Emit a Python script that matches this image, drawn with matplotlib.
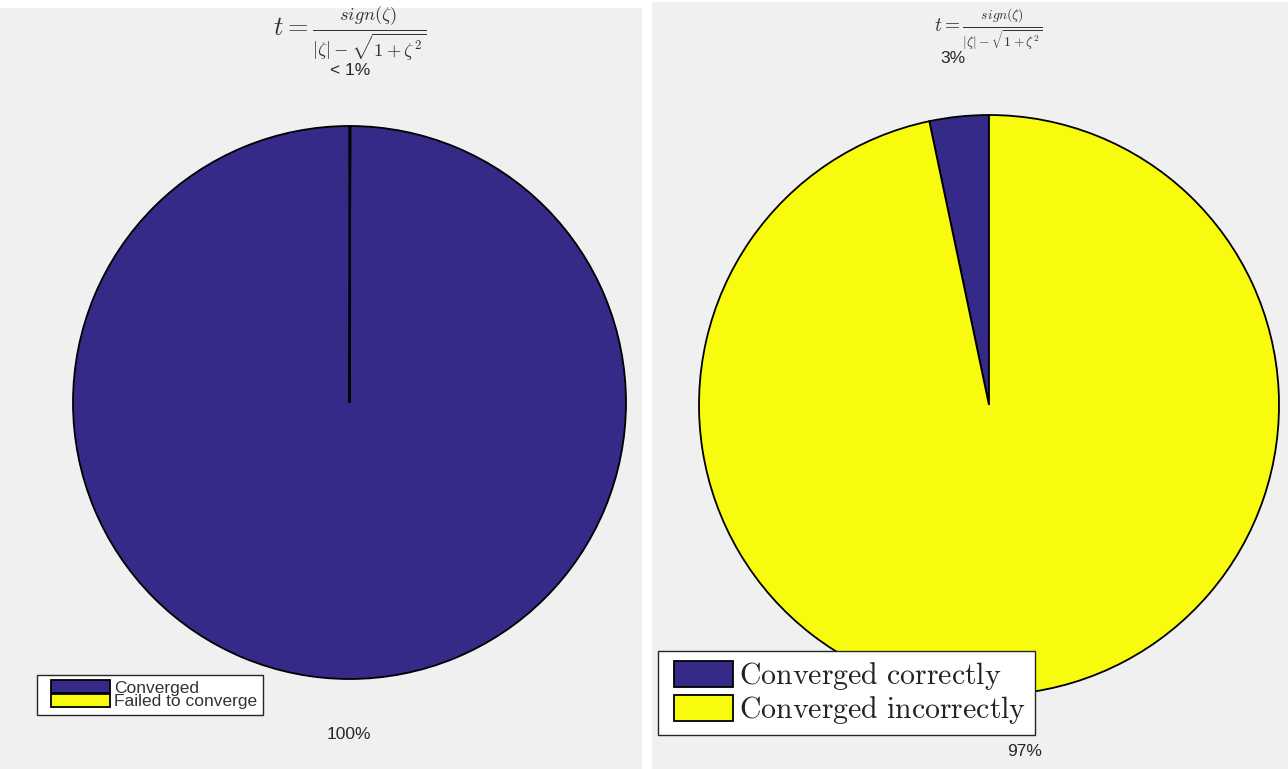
import matplotlib
matplotlib.use("Agg")
import matplotlib.pyplot as plt
from matplotlib.patches import Rectangle
from matplotlib.legend_handler import HandlerPatch

plt.rcParams["font.family"] = ["Liberation Sans", "DejaVu Sans"]
plt.rcParams["mathtext.fontset"] = "cm"

W, H = 1288, 769

# data
left_labels = ["Converged", "Failed to converge"]
left_values = [99.95, 0.05]
right_labels = [r"$\mathrm{Converged\ correctly}$", r"$\mathrm{Converged\ incorrectly}$"]
right_values = [3.3, 96.7]

colors = ["#352a87", "#f9fb0e"]
panel_gray = "#f0f0f0"
title = r"$t = \frac{sign(\zeta)}{|\zeta| - \sqrt{1+\zeta^2}}$"


def pct_label(v, total):
    p = 100.0 * v / total
    if p < 1:
        return "< 1%"
    return "%d%%" % round(p)


def make_panel(fig, px0, py0, px1, py1, cx, cy, r):
    # pixel coords measured from top-left
    fig.patches.append(Rectangle((px0 / W, 1 - py1 / H), (px1 - px0) / W, (py1 - py0) / H,
                                 transform=fig.transFigure, facecolor=panel_gray,
                                 edgecolor="none", zorder=-5))
    ax = fig.add_axes([px0 / W, 1 - py1 / H, (px1 - px0) / W, (py1 - py0) / H])
    ax.set_facecolor("none")
    return ax, ((px0 - cx) / r, (px1 - cx) / r), ((cy - py1) / r, (cy - py0) / r)


def swatch(offset):
    # legend patch shifted right by `offset` points
    def f(legend, orig_handle, xdescent, ydescent, width, height, fontsize):
        return Rectangle((-xdescent + offset, -ydescent), width - offset, height)
    return HandlerPatch(patch_func=f)


fig = plt.figure(figsize=(W / 100, H / 100), dpi=100)
fig.patch.set_facecolor("white")

# left panel
ax1, xl, yl = make_panel(fig, 0, 8, 642, 769, 349.5, 402.5, 276.5)
tot = sum(left_values)
wedges, texts = ax1.pie(left_values, colors=colors, startangle=90, counterclock=True,
                        labels=[pct_label(v, tot) for v in left_values], labeldistance=1.2,
                        wedgeprops=dict(edgecolor="black", linewidth=1.3),
                        textprops=dict(fontsize=12.5, color="#262626"))
for t in texts:
    t.set_ha("center")
    t.set_va("center")
ax1.set_xlim(*xl)
ax1.set_ylim(*yl)
ax1.set_aspect("auto")
ax1.text(0, 1.333, title, ha="center", va="center", fontsize=19, color="#333333")
leg1 = ax1.legend(wedges, left_labels, loc="upper left",
                  bbox_to_anchor=(37 / W, 1 - 675 / H), bbox_transform=fig.transFigure,
                  fontsize=12.5, frameon=True, fancybox=False, framealpha=1,
                  edgecolor="#262626", handlelength=3.9, handleheight=0.75,
                  labelspacing=-0.1, handletextpad=0.25, borderpad=0.3,
                  borderaxespad=0, handler_map={w: swatch(6) for w in wedges})
leg1.get_frame().set_linewidth(1.0)
for t in leg1.get_texts():
    t.set_color("#333333")

# right panel
ax2, xl, yl = make_panel(fig, 652, 2, 1288, 769, 989, 405, 290)
tot = sum(right_values)
wedges, texts = ax2.pie(right_values, colors=colors, startangle=90, counterclock=True,
                        labels=[pct_label(v, tot) for v in right_values], labeldistance=1.2,
                        wedgeprops=dict(edgecolor="black", linewidth=1.3),
                        textprops=dict(fontsize=12.5, color="#262626"))
for t in texts:
    t.set_ha("center")
    t.set_va("center")
ax2.set_xlim(*xl)
ax2.set_ylim(*yl)
ax2.set_aspect("auto")
ax2.text(-0.003, 1.295, title, ha="center", va="center", fontsize=14, color="#333333")
leg2 = ax2.legend(wedges, right_labels, loc="upper left",
                  bbox_to_anchor=(658 / W, 1 - 651 / H), bbox_transform=fig.transFigure,
                  fontsize=21.5, frameon=True, fancybox=False, framealpha=1,
                  edgecolor="#262626", handlelength=2.2, handleheight=0.97,
                  labelspacing=0.08, handletextpad=0.2, borderpad=0.3,
                  borderaxespad=0, handler_map={w: swatch(5) for w in wedges})
leg2.get_frame().set_linewidth(1.0)
for t in leg2.get_texts():
    t.set_color("#222222")

fig.savefig("out.png", dpi=100, facecolor="white")
